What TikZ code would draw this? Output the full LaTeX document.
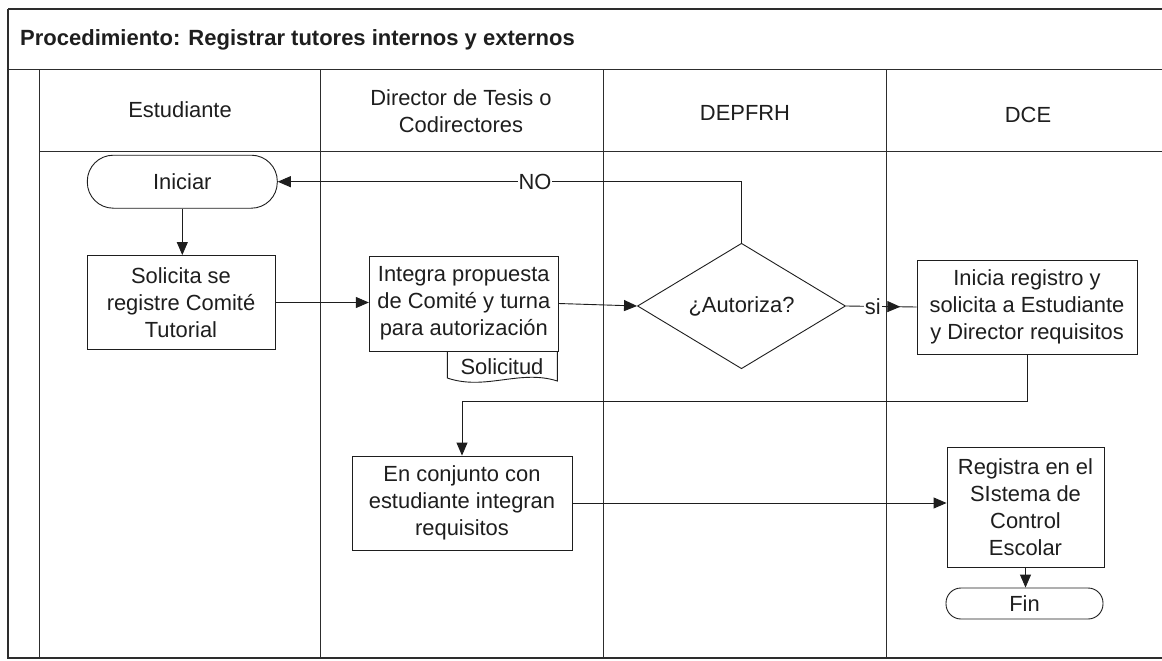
\documentclass[tikz,border=0pt]{standalone}
\usepackage{fontspec}
\setmainfont{Liberation Sans}
\usetikzlibrary{arrows.meta,shapes.geometric,decorations.markings,calc}
\definecolor{ink}{RGB}{30,30,30}
\definecolor{gridc}{RGB}{45,45,45}
\begin{document}
\begin{tikzpicture}[x=1pt,y=-1pt,
  every node/.style={text=ink, font=\fontsize{21.9}{26.8}\selectfont, align=center, inner sep=0pt},
  frame/.style={draw=gridc, line width=1.3pt},
  lane/.style={draw=gridc, line width=1pt},
  proc/.style={draw=ink, line width=0.9pt, rectangle},
  term/.style={draw=ink, line width=0.9pt, rectangle},
  decis/.style={draw=ink, line width=0.9pt, diamond},
  conn/.style={draw=ink, line width=0.9pt, -{Triangle[length=13pt,width=11pt]}},
  lbl/.style={fill=white, inner sep=1pt},
  tipmid/.style={postaction={decorate}, decoration={markings, mark=at position #1 with {\arrow{Triangle[length=13pt,width=11pt]}}}}
]
\path[use as bounding box, fill=white] (0,0) rectangle (1162,661);

% frame and lanes
\draw[frame] (8,9) -- (1162,9);
\draw[frame] (8,9) -- (8,658) -- (1162,658);
\draw[frame] (8,69.5) -- (1162,69.5);
\draw[lane] (39,69.5) -- (39,658);
\draw[lane] (39,151) -- (1162,151);
\draw[lane] (320,69.5) -- (320,658);
\draw[lane] (603,69.5) -- (603,658);
\draw[lane] (886,69.5) -- (886,658);

% title and headers
\node[anchor=west, font=\bfseries\fontsize{22}{26}\selectfont] (title) at (20,40) {Procedimiento: Registrar tutores internos y externos};
\node (h1) at (180,110) {Estudiante};
\node (h2) at (461,111.5) {Director de Tesis o\\Codirectores};
\node (h3) at (745,113) {DEPFRH};
\node (h4) at (1028,115) {DCE};

% flow nodes
\node[term, rounded corners=26pt, minimum width=190pt, minimum height=53pt] (ini) at (182.3,181.7) {Iniciar};
\node[proc, minimum width=188pt, minimum height=94pt] (sol) at (181,302.5) {Solicita se\\registre Comité\\Tutorial};
\node[proc, minimum width=189pt, minimum height=95pt] (integ) at (463.8,303.5) {Integra propuesta\\de Comité y turna\\para autorización};
\draw[ink, line width=0.9pt] (447.3,351) -- (447.3,378) .. controls (485,391) and (520,369) .. (557.3,381) -- (557.3,351);
\node (solic) at (502,367) {Solicitud};
\node[decis, minimum width=208pt, minimum height=125pt] (dia) at (741.5,306) {¿Autoriza?};
\node[proc, minimum width=220pt, minimum height=94pt] (dce1) at (1027,307) {Inicia registro y\\solicita a Estudiante\\y Director requisitos};
\node[proc, minimum width=220pt, minimum height=94pt] (enc) at (462,503) {En conjunto con\\estudiante integran\\requisitos};
\node[proc, minimum width=157pt, minimum height=120pt] (reg) at (1025.5,507) {Registra en el\\SIstema de\\Control\\Escolar};
\node[term, rounded corners=15pt, minimum width=157pt, minimum height=31pt] (fin) at (1024.5,603.5) {Fin};

% connectors
\coordinate (lvl) at (0,401);
\draw[conn] (ini.south) -- (ini.south |- sol.north);
\draw[conn] (sol.east) -- (integ.west |- sol.east);
\draw[conn] (integ.east) -- (dia.west);
\draw[conn] (dia.north) |- node[lbl, pos=0.7226] {NO} (ini.east);
\draw[draw=ink, line width=0.9pt, tipmid=0.77] (dia.east) -- node[lbl, pos=0.38] {si} (dce1.west);
\draw[conn] (dce1.south) -- (dce1.south |- lvl) -| (enc.north);
\draw[conn] (enc.east) -- (enc.east -| reg.west);
\draw[conn] (reg.south) -- (reg.south |- fin.north);
\end{tikzpicture}
\end{document}
